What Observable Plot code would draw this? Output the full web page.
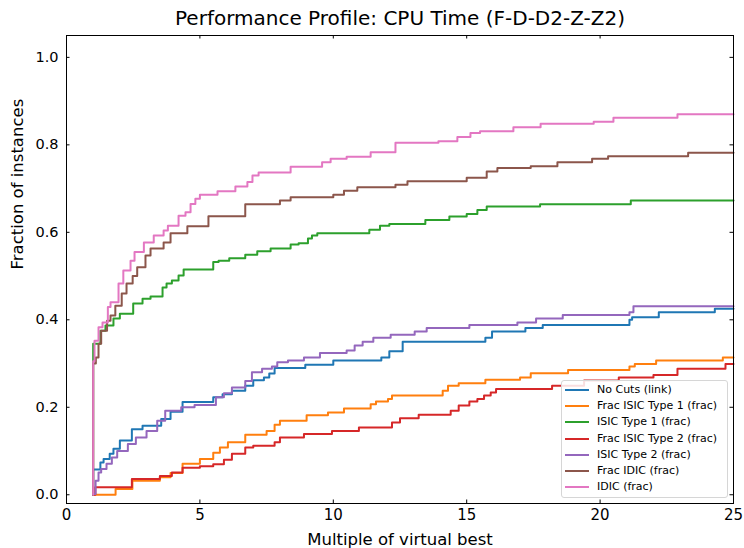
<!DOCTYPE html>
<html><head><meta charset="utf-8">
<script src="https://cdn.jsdelivr.net/npm/d3@7"></script>
<script src="https://cdn.jsdelivr.net/npm/@observablehq/plot@0.6"></script>
<style>
body{margin:0;background:#fff;}
#wrap{position:relative;width:744px;height:548px;font-family:"DejaVu Sans",sans-serif;}
#legend{position:absolute;left:561px;top:380px;width:167px;height:118px;border:1px solid #d6d6d6;border-radius:3px;background:rgba(255,255,255,0.85);box-sizing:border-box;}
.item{position:absolute;left:0;height:16px;width:164px;}
.item .ln{position:absolute;left:3px;top:7px;width:24px;height:2px;}
.item .tx{position:absolute;left:35px;top:0;font-size:11px;line-height:16px;color:#000;white-space:nowrap;}
</style>
</head><body>
<div id="wrap"><div id="chart"></div><div id="legend"></div></div>
<script>
const title = "Performance Profile: CPU Time (F-D-D2-Z-Z2)";
const xLabel = "Multiple of virtual best";
const yLabel = "Fraction of instances";
const xTicks = [0, 5, 10, 15, 20, 25];
const yTicks = [0, 0.2, 0.4, 0.6, 0.8, 1.0];
const seriesNames = ["No Cuts (link)", "Frac ISIC Type 1 (frac)", "ISIC Type 1 (frac)", "Frac ISIC Type 2 (frac)", "ISIC Type 2 (frac)", "Frac IDIC (frac)", "IDIC (frac)"];
const colors = ["#1f77b4", "#ff7f0e", "#2ca02c", "#d62728", "#9467bd", "#8c564b", "#e377c2"];

const noCutsX = [1, 1, 1.27, 1.39, 1.62, 1.76, 2.0, 2.45, 2.85, 3.55, 3.9, 4.35, 5.5, 5.85, 6.2, 6.7, 7.0, 7.4, 7.6, 7.8, 8.95, 10.0, 11.8, 12.1, 12.6, 15.7, 15.95, 17.2, 17.85, 21.1, 21.2, 22.2, 24.3, 25];
const noCutsY = [0, 0.058, 0.074, 0.082, 0.094, 0.105, 0.124, 0.15, 0.158, 0.173, 0.19, 0.212, 0.223, 0.23, 0.238, 0.249, 0.262, 0.268, 0.277, 0.29, 0.297, 0.307, 0.314, 0.328, 0.35, 0.359, 0.373, 0.381, 0.388, 0.40, 0.406, 0.417, 0.425, 0.425];

const fracIsic1X = [1, 1.84, 2.47, 3.5, 3.9, 4.35, 5.0, 5.5, 5.75, 6.05, 6.7, 7.5, 7.8, 8.0, 9.0, 9.8, 10.4, 11.4, 11.6, 12.05, 12.2, 14.1, 14.3, 14.7, 15.7, 17.0, 17.4, 18.8, 21.1, 21.3, 22.1, 24.6, 25];
const fracIsic1Y = [0, 0.013, 0.032, 0.04, 0.05, 0.071, 0.082, 0.096, 0.108, 0.12, 0.137, 0.146, 0.16, 0.169, 0.182, 0.188, 0.197, 0.207, 0.213, 0.219, 0.227, 0.238, 0.249, 0.255, 0.263, 0.268, 0.278, 0.285, 0.293, 0.299, 0.307, 0.314, 0.314];

const isic1X = [1, 1, 1.27, 1.46, 1.76, 2.0, 2.5, 2.85, 3.15, 3.6, 3.75, 3.95, 4.2, 4.39, 5.5, 5.7, 6.1, 6.7, 7.15, 7.65, 8.4, 8.7, 9.05, 9.2, 9.4, 11.35, 11.75, 12.1, 13.45, 14.35, 15.0, 15.4, 15.75, 17.75, 21.15, 25];
const isic1Y = [0, 0.345, 0.375, 0.387, 0.403, 0.414, 0.437, 0.448, 0.453, 0.474, 0.483, 0.49, 0.501, 0.515, 0.532, 0.535, 0.541, 0.549, 0.557, 0.563, 0.572, 0.575, 0.586, 0.593, 0.598, 0.606, 0.615, 0.619, 0.628, 0.636, 0.642, 0.651, 0.659, 0.664, 0.673, 0.673];

const fracIsic2X = [1, 1.08, 2.45, 3.5, 3.95, 4.35, 5.0, 5.5, 5.9, 6.2, 6.7, 7.0, 7.8, 8.0, 8.9, 9.95, 10.96, 12.2, 12.5, 13.2, 14.4, 14.7, 15.1, 15.4, 15.65, 15.9, 16.1, 18.2, 19.4, 20.7, 22.0, 22.9, 24.7, 25];
const fracIsic2Y = [0, 0.017, 0.036, 0.043, 0.051, 0.062, 0.065, 0.07, 0.08, 0.094, 0.108, 0.112, 0.12, 0.131, 0.139, 0.146, 0.154, 0.165, 0.175, 0.183, 0.192, 0.204, 0.213, 0.219, 0.227, 0.234, 0.242, 0.249, 0.261, 0.268, 0.274, 0.288, 0.299, 0.299];

const isic2X = [1, 1, 1.09, 1.2, 1.3, 1.5, 1.7, 1.9, 2.3, 2.6, 3.0, 3.4, 3.7, 4.3, 4.8, 5.6, 5.9, 6.2, 6.7, 6.95, 7.33, 7.7, 7.9, 8.3, 8.9, 9.5, 10.5, 10.8, 11.1, 11.5, 12.15, 13.05, 13.5, 15.1, 16.9, 17.6, 18.6, 21.1, 21.25, 25];
const isic2Y = [0, 0.002, 0.032, 0.051, 0.059, 0.071, 0.085, 0.1, 0.116, 0.131, 0.146, 0.169, 0.192, 0.2, 0.205, 0.223, 0.232, 0.245, 0.26, 0.28, 0.288, 0.293, 0.303, 0.307, 0.314, 0.324, 0.33, 0.341, 0.35, 0.359, 0.366, 0.373, 0.381, 0.388, 0.394, 0.403, 0.411, 0.417, 0.431, 0.431];

const fracIdicX = [1, 1, 1.1, 1.2, 1.3, 1.52, 1.65, 1.83, 2.07, 2.25, 2.48, 2.65, 2.96, 3.15, 3.64, 3.9, 4.53, 5.32, 6.7, 8.0, 8.4, 10.0, 10.4, 10.9, 12.33, 12.78, 15.0, 15.75, 16.15, 17.4, 18.4, 19.7, 20.3, 23.3, 25];
const fracIdicY = [0, 0.3, 0.314, 0.345, 0.375, 0.398, 0.41, 0.432, 0.46, 0.483, 0.5, 0.52, 0.547, 0.563, 0.577, 0.598, 0.614, 0.637, 0.664, 0.673, 0.68, 0.686, 0.695, 0.703, 0.709, 0.717, 0.725, 0.739, 0.747, 0.751, 0.76, 0.768, 0.774, 0.782, 0.782];

const idicX = [1, 1, 1.05, 1.2, 1.35, 1.55, 1.65, 1.95, 2.13, 2.4, 2.55, 2.9, 3.27, 3.64, 3.8, 4.2, 4.46, 4.65, 4.83, 5.0, 5.66, 6.33, 6.78, 6.97, 7.2, 8.4, 9.58, 9.9, 10.5, 11.4, 12.33, 13.94, 14.65, 15.14, 15.5, 16.75, 17.77, 19.76, 20.5, 22.9, 25];
const idicY = [0, 0.305, 0.352, 0.383, 0.394, 0.429, 0.44, 0.483, 0.513, 0.535, 0.555, 0.577, 0.593, 0.604, 0.615, 0.638, 0.646, 0.665, 0.677, 0.686, 0.694, 0.705, 0.715, 0.73, 0.737, 0.75, 0.76, 0.768, 0.773, 0.783, 0.805, 0.808, 0.818, 0.827, 0.831, 0.84, 0.848, 0.853, 0.862, 0.87, 0.87];

const seriesX = [noCutsX, fracIsic1X, isic1X, fracIsic2X, isic2X, fracIdicX, idicX];
const seriesY = [noCutsY, fracIsic1Y, isic1Y, fracIsic2Y, isic2Y, fracIdicY, idicY];

const W = 744, H = 548, mL = 66, mR = 11, mT = 35, mB = 45;
const innerW = W - mL - mR, innerH = H - mT - mB;
const tickLen = 3.5;

const lineMarks = seriesNames.map((name, i) => {
  const pts = seriesX[i].map((x, j) => ({x, y: seriesY[i][j]}));
  return Plot.line(pts, {x: "x", y: "y", curve: "step-after", stroke: colors[i], strokeWidth: 2});
});

const chart = Plot.plot({
  width: W, height: H,
  marginLeft: mL, marginRight: mR, marginTop: mT, marginBottom: mB,
  style: {fontFamily: "DejaVu Sans, sans-serif", background: "#fff", color: "#000"},
  x: {domain: [0, 25]},
  y: {domain: [-0.02, 1.05]},
  marks: [
    ...lineMarks,
    Plot.frame({stroke: "#000", strokeWidth: 1}),
    Plot.tickX(xTicks, {x: d => d, insetTop: innerH - tickLen, stroke: "#000"}),
    Plot.tickX(xTicks, {x: d => d, insetBottom: innerH - tickLen, stroke: "#000"}),
    Plot.tickY(yTicks, {y: d => d, insetRight: innerW - tickLen, stroke: "#000"}),
    Plot.tickY(yTicks, {y: d => d, insetLeft: innerW - tickLen, stroke: "#000"}),
    Plot.axisX({ticks: xTicks, tickSize: 0, tickPadding: 6, fontSize: 15, label: null}),
    Plot.axisY({ticks: yTicks, tickSize: 0, tickPadding: 8, fontSize: 14.5, tickFormat: d3.format(".1f"), label: null}),
    Plot.text([xLabel], {frameAnchor: "bottom", dy: 36, fontSize: 16.5, lineAnchor: "middle", fill: "#000"}),
    Plot.text([yLabel], {frameAnchor: "left", dx: -49, rotate: -90, fontSize: 16.5, lineAnchor: "middle", fill: "#000"}),
    Plot.text([title], {frameAnchor: "top", dy: -17, fontSize: 20, lineAnchor: "middle", fill: "#000"})
  ]
});
document.getElementById("chart").appendChild(chart);

const legend = document.getElementById("legend");
seriesNames.forEach((name, i) => {
  const it = document.createElement("div");
  it.className = "item";
  it.style.top = (1 + i * 16.2) + "px";
  it.innerHTML = `<div class="ln" style="background:${colors[i]}"></div><div class="tx"></div>`;
  it.querySelector(".tx").textContent = name;
  legend.appendChild(it);
});
</script>
</body></html>
